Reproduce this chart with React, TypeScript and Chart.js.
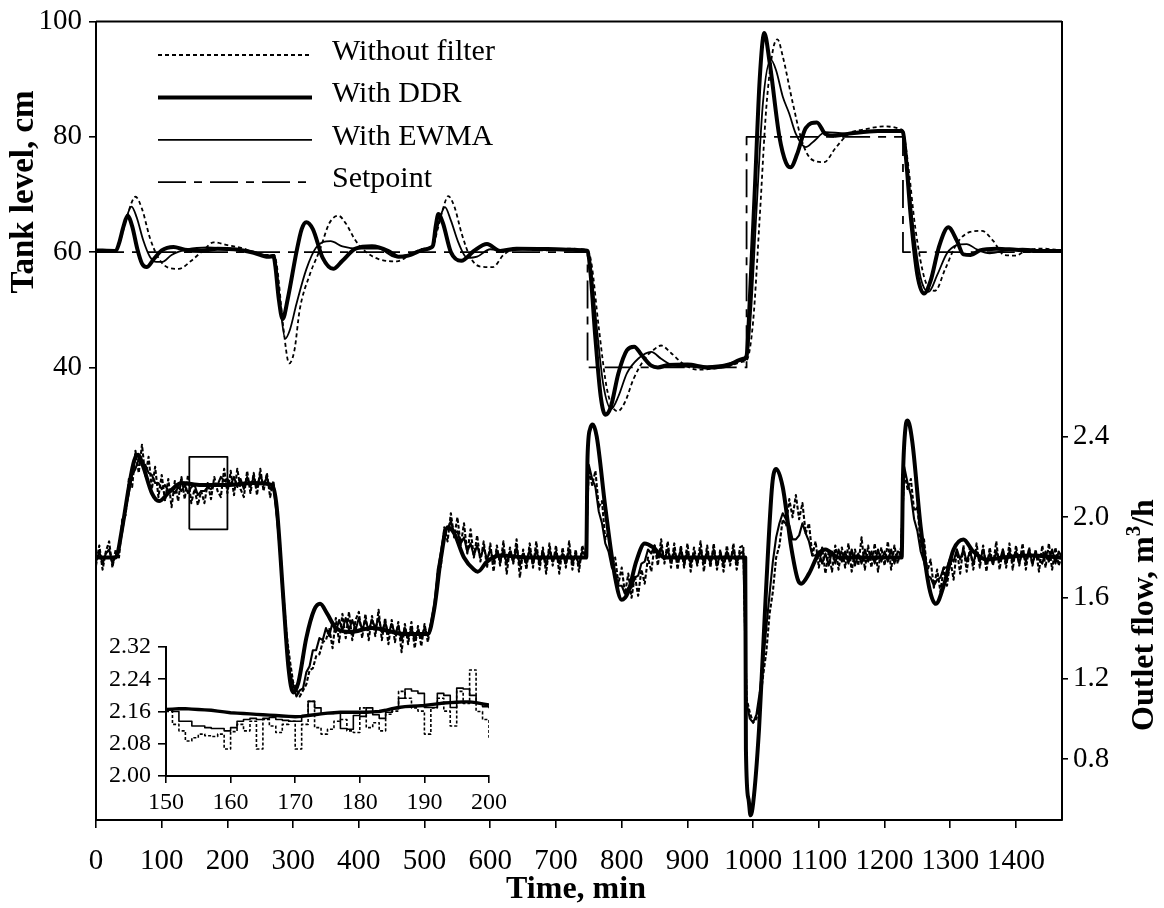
import React, { useEffect, useRef } from "react";
import { Chart, registerables } from "chart.js";

Chart.register(...registerables);

const INK = "#000";
const SERIF = "'Liberation Serif', 'Times New Roman', serif";

// ---- axes ----
const timeTicks = [0, 100, 200, 300, 400, 500, 600, 700, 800, 900, 1000, 1100, 1200, 1300, 1400];
const levelTicks = [40, 60, 80, 100];
const flowTicks = [0.8, 1.2, 1.6, 2.0, 2.4];

// ---- tank level, cm ----
const setpointTime = [0, 748, 990, 1228, 1470];
const setpointLevel = [60, 40, 80, 60, 60];

const levelNoFilterTime = [0, 30, 37, 48, 60, 70, 82, 95, 110, 126, 145, 165, 179, 200, 225, 250, 271, 276, 285, 294, 302, 310, 325, 341, 355, 369, 380, 395, 411, 430, 458, 475, 495, 513, 520, 528, 536, 545, 557, 570, 585, 604, 620, 640, 680, 720, 748, 754, 765, 778, 794, 805, 818, 835, 848, 860, 875, 895, 915, 940, 965, 985, 990, 1000, 1010, 1020, 1030, 1037, 1045, 1060, 1075, 1090, 1108, 1125, 1145, 1170, 1201, 1225, 1228, 1235, 1247, 1262, 1277, 1292, 1310, 1330, 1348, 1365, 1382, 1400, 1415, 1440, 1470];
const levelNoFilter = [60.1, 60.2, 62, 66.5, 69.6, 67.5, 62.5, 59, 57.3, 57.1, 58.5, 60.5, 61.7, 61.2, 60.6, 59.5, 59.5, 57, 47, 40.7, 43, 50, 56, 60.5, 65, 66.3, 65, 62, 60, 58.8, 58.4, 59.3, 60.5, 61.3, 64, 67.5, 69.7, 68, 63, 59, 57.5, 57.4, 59.5, 60.6, 60.3, 60.6, 60.3, 58, 47, 36, 32.4, 34, 38, 41.5, 43, 43.8, 42.5, 40.5, 39.6, 39.8, 40.3, 41, 41.2, 48, 66, 85, 95, 96.9, 94, 86, 79, 76, 75.6, 78, 80.5, 81.3, 81.8, 81.3, 81, 76, 64, 55, 53.3, 57, 61.5, 63.5, 63.7, 62, 59.5, 59.4, 60.3, 60.6, 60.3];

const levelDdrTime = [0, 30, 35, 42, 48, 55, 63, 70, 77, 88, 100, 118, 135, 160, 185, 210, 240, 262, 270, 273, 278, 284, 292, 305, 313, 320, 330, 345, 361, 375, 395, 420, 445, 460, 475, 495, 510, 513, 517, 521, 528, 540, 556, 575, 595, 615, 640, 700, 745, 748, 752, 760, 768, 775, 783, 795, 808, 819, 830, 845, 855, 870, 900, 930, 960, 985, 990, 995, 1003, 1010, 1017, 1025, 1040, 1050, 1057, 1067, 1080, 1097, 1110, 1125, 1150, 1190, 1225, 1228, 1232, 1240, 1250, 1260, 1270, 1283, 1297, 1310, 1320, 1331, 1345, 1370, 1400, 1430, 1470];
const levelDdr = [60.3, 60.2, 61.5, 64.5, 66.3, 64.5, 60.5, 58.0, 57.4, 58.8, 60.3, 60.9, 60.4, 60.2, 60.6, 60.5, 59.9, 59.2, 59.3, 57.5, 52, 48.4, 52, 60, 64, 65.2, 64, 59, 57.1, 58.5, 60.6, 61, 60.2, 59.2, 59.4, 60.3, 60.8, 61.2, 64.5, 66.6, 65, 60, 58.5, 60.2, 61.4, 60.2, 60.6, 60.5, 60.3, 60.2, 57, 45, 35, 31.8, 33, 39, 43, 43.6, 42.2, 40.3, 40, 40.4, 40.5, 40.0, 40.3, 41.5, 42, 52, 72, 90, 98.0, 93, 80, 75.5, 74.7, 77, 81.5, 82.5, 80.5, 80.2, 80.6, 81.0, 81.0, 80.8, 77, 66, 56, 52.8, 55, 61, 64.3, 62, 59.6, 59.5, 60.3, 60.6, 60.4, 60.2, 60.2];

const levelEwmaTime = [0, 30, 36, 45, 54, 62, 72, 82, 92, 101, 115, 140, 170, 200, 235, 262, 271, 275, 281, 288, 295, 305, 320, 335, 357, 375, 400, 430, 455, 475, 500, 513, 518, 525, 531, 540, 552, 565, 580, 600, 620, 660, 745, 748, 753, 762, 772, 784, 795, 808, 825, 845, 860, 880, 910, 950, 985, 990, 997, 1005, 1015, 1027, 1035, 1045, 1055, 1065, 1080, 1092, 1110, 1140, 1180, 1225, 1228, 1233, 1243, 1255, 1267, 1280, 1295, 1310, 1325, 1340, 1360, 1385, 1410, 1440, 1470];
const levelEwma = [60.2, 60.2, 62, 65.5, 67.9, 66, 62, 59.2, 58.3, 58.3, 59.5, 60.5, 60.8, 60.5, 60.2, 59.4, 59.5, 57, 50, 45, 46.5, 51, 57, 60.8, 61.9, 61, 60.6, 60.6, 59.2, 59.5, 60.5, 61, 63.5, 66.5, 67.8, 65.5, 61.5, 59, 59.2, 60.5, 60.2, 60.6, 60.3, 60.2, 57.5, 47, 37, 32.8, 35, 39, 41.5, 42.7, 41.5, 40.3, 40.1, 40.4, 41.2, 41.5, 50, 67, 86, 93.4, 91.5, 87, 84, 80.5, 78.2, 79.2, 80.8, 80.6, 81, 81.1, 80.8, 77, 65, 55.5, 53.1, 56, 59.8, 61.2, 61.4, 60.5, 59.8, 60.3, 60.6, 60.3, 60.2];

// ---- outlet flow, m3/h (logged every 5 min) ----
const FLOW_STEP = 5;
const flowNoFilter = [
  1.76, 1.86, 1.74, 1.83, 1.88, 1.75, 1.84, 1.80, 1.99, 2.01, 2.19, 2.15, 2.33, 2.22, 2.36, 2.20, 2.30, 2.14, 2.25, 2.10,
  2.21, 2.08, 2.19, 2.05, 2.18, 2.08, 2.20, 2.09, 2.21, 2.07, 2.14, 2.06, 2.13, 2.07, 2.17, 2.09, 2.20, 2.13, 2.10, 2.24,
  2.12, 2.23, 2.11, 2.24, 2.14, 2.10, 2.23, 2.12, 2.22, 2.11, 2.24, 2.13, 2.22, 2.10, 2.18, 2.02, 1.86, 1.62, 1.42, 1.29,
  1.18, 1.15, 1.11, 1.14, 1.17, 1.24, 1.25, 1.31, 1.32, 1.38, 1.39, 1.45, 1.35, 1.50, 1.38, 1.52, 1.40, 1.53, 1.39, 1.49,
  1.53, 1.40, 1.52, 1.39, 1.51, 1.41, 1.54, 1.39, 1.50, 1.37, 1.49, 1.38, 1.48, 1.33, 1.47, 1.37, 1.48, 1.35, 1.46, 1.36,
  1.47, 1.38, 1.48, 1.53, 1.72, 1.76, 1.95, 1.88, 2.02, 1.90, 2.00, 1.86, 1.97, 1.82, 1.94, 1.80, 1.91, 1.78, 1.88, 1.75,
  1.87, 1.73, 1.86, 1.76, 1.88, 1.72, 1.85, 1.77, 1.89, 1.70, 1.84, 1.74, 1.87, 1.75, 1.88, 1.74, 1.85, 1.72, 1.87, 1.76,
  1.86, 1.72, 1.85, 1.75, 1.88, 1.74, 1.84, 1.73, 1.86, 1.80, 2.24, 2.16, 2.23, 2.05, 2.08, 1.89, 1.93, 1.76, 1.80, 1.67,
  1.75, 1.62, 1.72, 1.60, 1.71, 1.61, 1.74, 1.67, 1.80, 1.73, 1.86, 1.76, 1.89, 1.77, 1.88, 1.75, 1.87, 1.74, 1.86, 1.75,
  1.87, 1.73, 1.85, 1.76, 1.88, 1.73, 1.86, 1.75, 1.87, 1.74, 1.84, 1.73, 1.86, 1.76, 1.87, 1.74, 1.85, 1.86, 1.10, 1.03,
  0.98, 1.00, 1.07, 1.21, 1.33, 1.52, 1.63, 1.80, 1.86, 1.99, 1.96, 2.09, 2.00, 2.11, 1.99, 2.07, 1.92, 1.97, 1.81, 1.88,
  1.75, 1.85, 1.72, 1.83, 1.73, 1.86, 1.74, 1.85, 1.75, 1.87, 1.73, 1.84, 1.76, 1.90, 1.74, 1.86, 1.75, 1.87, 1.73, 1.85,
  1.76, 1.88, 1.74, 1.86, 1.77, 1.85, 2.22, 2.14, 2.19, 2.03, 2.05, 1.86, 1.89, 1.73, 1.79, 1.65, 1.74, 1.63, 1.75, 1.66,
  1.79, 1.69, 1.84, 1.72, 1.86, 1.73, 1.85, 1.74, 1.87, 1.75, 1.86, 1.73, 1.85, 1.76, 1.88, 1.74, 1.84, 1.75, 1.87, 1.74,
  1.86, 1.76, 1.87, 1.74, 1.85, 1.76, 1.84, 1.73, 1.86, 1.75, 1.87, 1.74, 1.85, 1.76, 1.81,
];
const flowEwma = [
  1.78, 1.83, 1.77, 1.82, 1.84, 1.77, 1.81, 1.84, 1.93, 2.04, 2.12, 2.21, 2.24, 2.29, 2.27, 2.26, 2.22, 2.21, 2.17, 2.17,
  2.14, 2.16, 2.13, 2.14, 2.12, 2.15, 2.13, 2.16, 2.12, 2.15, 2.16, 2.11, 2.13, 2.13, 2.15, 2.14, 2.16, 2.16, 2.20, 2.18,
  2.19, 2.16, 2.20, 2.15, 2.19, 2.14, 2.20, 2.15, 2.20, 2.15, 2.21, 2.16, 2.20, 2.14, 2.16, 2.01, 1.83, 1.57, 1.39, 1.23,
  1.17, 1.11, 1.14, 1.15, 1.23, 1.26, 1.34, 1.34, 1.40, 1.39, 1.45, 1.41, 1.48, 1.43, 1.49, 1.44, 1.50, 1.44, 1.49, 1.44,
  1.50, 1.44, 1.49, 1.44, 1.49, 1.45, 1.50, 1.43, 1.48, 1.42, 1.47, 1.42, 1.46, 1.39, 1.45, 1.40, 1.45, 1.39, 1.44, 1.40,
  1.45, 1.41, 1.48, 1.57, 1.74, 1.83, 1.94, 1.94, 1.98, 1.92, 1.93, 1.87, 1.90, 1.83, 1.87, 1.81, 1.86, 1.80, 1.85, 1.79,
  1.84, 1.78, 1.83, 1.78, 1.84, 1.77, 1.83, 1.78, 1.85, 1.76, 1.82, 1.77, 1.84, 1.77, 1.84, 1.77, 1.83, 1.76, 1.84, 1.78,
  1.83, 1.77, 1.82, 1.77, 1.84, 1.77, 1.82, 1.76, 1.83, 1.81, 2.26, 2.19, 2.15, 2.03, 1.97, 1.87, 1.83, 1.75, 1.72, 1.66,
  1.66, 1.62, 1.65, 1.65, 1.70, 1.71, 1.77, 1.78, 1.84, 1.82, 1.86, 1.80, 1.85, 1.79, 1.84, 1.78, 1.83, 1.78, 1.84, 1.77,
  1.83, 1.77, 1.82, 1.77, 1.84, 1.77, 1.83, 1.77, 1.84, 1.76, 1.82, 1.77, 1.83, 1.78, 1.84, 1.77, 1.82, 1.83, 1.08, 1.00,
  0.98, 1.02, 1.13, 1.28, 1.45, 1.62, 1.78, 1.90, 1.97, 2.02, 1.99, 1.96, 1.89, 1.89, 1.91, 1.97, 1.92, 1.88, 1.81, 1.81,
  1.83, 1.77, 1.82, 1.76, 1.83, 1.77, 1.84, 1.78, 1.83, 1.77, 1.84, 1.76, 1.82, 1.77, 1.84, 1.78, 1.83, 1.77, 1.84, 1.78,
  1.83, 1.78, 1.84, 1.77, 1.83, 1.82, 2.25, 2.17, 2.11, 1.99, 1.93, 1.83, 1.78, 1.71, 1.70, 1.66, 1.69, 1.70, 1.75, 1.75,
  1.80, 1.78, 1.84, 1.79, 1.84, 1.78, 1.83, 1.77, 1.83, 1.78, 1.84, 1.77, 1.82, 1.77, 1.83, 1.78, 1.84, 1.77, 1.83, 1.78,
  1.83, 1.77, 1.83, 1.78, 1.84, 1.77, 1.82, 1.79, 1.77, 1.83, 1.78, 1.84, 1.77, 1.83, 1.80,
];
const flowDdrTime = [0, 30, 40, 50, 58, 64, 72, 85, 96, 110, 130, 160, 200, 240, 268, 275, 285, 293, 300, 308, 320, 332, 341, 352, 365, 387, 420, 470, 505, 515, 525, 535, 545, 560, 575, 581, 595, 615, 660, 746, 748, 752, 756, 762, 775, 790, 800, 810, 822, 835, 848, 865, 988, 989, 993, 996, 1000, 1009, 1019, 1029, 1035, 1045, 1058, 1068, 1073, 1085, 1100, 1110, 1130, 1226, 1228, 1232, 1235, 1242, 1255, 1268, 1278, 1290, 1305, 1320, 1335, 1355, 1380, 1420, 1470];
const flowDdr = [1.80, 1.80, 1.95, 2.15, 2.28, 2.31, 2.25, 2.12, 2.08, 2.12, 2.17, 2.16, 2.16, 2.17, 2.16, 2.05, 1.60, 1.25, 1.13, 1.18, 1.40, 1.54, 1.57, 1.52, 1.45, 1.43, 1.45, 1.42, 1.42, 1.55, 1.80, 1.95, 1.92, 1.80, 1.74, 1.73, 1.78, 1.81, 1.80, 1.80, 2.30, 2.44, 2.46, 2.40, 2.05, 1.70, 1.59, 1.63, 1.78, 1.87, 1.85, 1.80, 1.80, 0.85, 0.60, 0.52, 0.58, 0.95, 1.60, 2.16, 2.24, 2.15, 1.85, 1.69, 1.67, 1.72, 1.82, 1.84, 1.80, 1.80, 2.20, 2.45, 2.48, 2.38, 1.95, 1.65, 1.57, 1.66, 1.84, 1.89, 1.83, 1.79, 1.80, 1.81, 1.80];

// window enlarged in the inset
const zoomBoxTime = [142, 142, 200, 200, 142];
const zoomBoxFlow = [1.94, 2.30, 2.30, 1.94, 1.94];

// ---- inset: outlet flow, 150-200 min, one sample per minute ----
const INSET_START = 150;
const insetTicksX = [150, 160, 170, 180, 190, 200];
const insetTicksY = [2.0, 2.08, 2.16, 2.24, 2.32];
const insetDdr = [2.165, 2.166, 2.167, 2.167, 2.166, 2.165, 2.164, 2.163, 2.161, 2.159, 2.157, 2.156, 2.155, 2.154, 2.153, 2.152, 2.151, 2.150, 2.149, 2.148, 2.147, 2.148, 2.150, 2.152, 2.154, 2.156, 2.157, 2.158, 2.158, 2.158, 2.158, 2.158, 2.159, 2.160, 2.163, 2.167, 2.170, 2.172, 2.173, 2.174, 2.175, 2.177, 2.179, 2.181, 2.182, 2.183, 2.184, 2.184, 2.182, 2.179, 2.176];
const insetEwma = [2.165, 2.16, 2.136, 2.136, 2.124, 2.124, 2.12, 2.118, 2.118, 2.112, 2.12, 2.136, 2.14, 2.143, 2.14, 2.143, 2.145, 2.14, 2.138, 2.136, 2.136, 2.15, 2.185, 2.169, 2.155, 2.155, 2.156, 2.118, 2.116, 2.15, 2.148, 2.169, 2.152, 2.143, 2.158, 2.167, 2.193, 2.216, 2.211, 2.205, 2.17, 2.17, 2.205, 2.2, 2.17, 2.218, 2.216, 2.2, 2.18, 2.172, 2.168];
const insetNoFilter = [2.16, 2.128, 2.112, 2.087, 2.095, 2.104, 2.1, 2.098, 2.104, 2.067, 2.11, 2.128, 2.112, 2.136, 2.067, 2.14, 2.124, 2.108, 2.128, 2.136, 2.067, 2.128, 2.185, 2.12, 2.104, 2.116, 2.136, 2.14, 2.112, 2.108, 2.169, 2.12, 2.132, 2.112, 2.153, 2.161, 2.21, 2.193, 2.169, 2.161, 2.104, 2.169, 2.193, 2.161, 2.124, 2.21, 2.18, 2.263, 2.16, 2.14, 2.095];

// ---- styling ----
const STYLE_NO_FILTER = { borderWidth: 1.8, borderDash: [4, 3] };
const STYLE_DDR = { borderWidth: 4 };
const STYLE_EWMA = { borderWidth: 1.8 };
const STYLE_SETPOINT = { borderWidth: 1.8, borderDash: [28, 8, 8, 8] };
// the sampled flow records are drawn a little heavier so the noise reads as a band
const STYLE_FLOW_NO_FILTER = { borderWidth: 2.1, borderDash: [4, 2] };
const STYLE_FLOW_EWMA = { borderWidth: 2.1 };

const pairs = (xs: number[], ys: number[]) => xs.map((x, i) => ({ x, y: ys[i] }));
const sampled = (ys: number[], start: number, step: number) => ys.map((y, i) => ({ x: start + i * step, y }));

function series(label: string, data: any[], axis: string, style: any, extra: any = {}) {
  return {
    label,
    data,
    yAxisID: axis,
    borderColor: INK,
    backgroundColor: INK,
    fill: false,
    pointRadius: 0,
    pointHoverRadius: 0,
    borderJoinStyle: "round",
    ...style,
    ...extra,
  };
}

const fixedTicks = (values: number[]) => (scale: any) => {
  scale.ticks = values.map((value) => ({ value }));
};

function axisLook(fontSize: number, padding: number, tickLength: number, fmt: (v: number) => string) {
  return {
    grid: { display: true, drawOnChartArea: false, drawTicks: true, tickLength, color: INK, lineWidth: 1.6 },
    border: { display: true, color: INK, width: 2 },
    ticks: {
      color: INK,
      font: { family: SERIF, size: fontSize, lineHeight: 1 },
      padding,
      autoSkip: false,
      maxRotation: 0,
      callback: (v: number) => fmt(v),
    },
  };
}

// key, frame and axis titles of the main chart
const decorPlugin = {
  id: "decor",
  afterDraw(chart: any) {
    const { ctx, chartArea: a } = chart;
    ctx.save();
    ctx.strokeStyle = INK;
    ctx.lineWidth = 2;
    ctx.beginPath();
    ctx.moveTo(a.left, a.top);
    ctx.lineTo(a.right, a.top);
    ctx.stroke();

    // key
    const rows = chart.data.datasets.filter((d: any) => d.inKey);
    rows.forEach((d: any, i: number) => {
      const y = 55 + i * 42.4;
      ctx.save();
      ctx.lineWidth = d.borderWidth;
      ctx.setLineDash(d.borderDash || []);
      ctx.beginPath();
      ctx.moveTo(158, y);
      ctx.lineTo(312, y);
      ctx.stroke();
      ctx.restore();
      ctx.fillStyle = INK;
      ctx.font = `30px ${SERIF}`;
      ctx.textAlign = "left";
      ctx.textBaseline = "middle";
      ctx.fillText(d.label, 332, y - 3);
    });

    ctx.fillStyle = INK;
    ctx.textBaseline = "middle";
    // x title
    ctx.font = `bold 32px ${SERIF}`;
    ctx.textAlign = "center";
    ctx.fillText("Time, min", 576, 890);

    // left title
    ctx.save();
    ctx.translate(24, 192);
    ctx.rotate(-Math.PI / 2);
    ctx.font = `bold 33px ${SERIF}`;
    ctx.fillText("Tank level, cm", 0, 0);
    ctx.restore();

    // right title with superscript
    ctx.save();
    ctx.translate(1145, 615);
    ctx.rotate(-Math.PI / 2);
    const big = `bold 32px ${SERIF}`;
    const small = `bold 21px ${SERIF}`;
    ctx.font = big;
    const w1 = ctx.measureText("Outlet flow, m").width;
    const w3 = ctx.measureText("/h").width;
    ctx.font = small;
    const w2 = ctx.measureText("3").width;
    let x = -(w1 + w2 + w3) / 2;
    ctx.textAlign = "left";
    ctx.font = big;
    ctx.fillText("Outlet flow, m", x, 0);
    x += w1;
    ctx.font = small;
    ctx.fillText("3", x, -10);
    x += w2;
    ctx.font = big;
    ctx.fillText("/h", x, 0);
    ctx.restore();

    ctx.restore();
  },
};

function mainConfig(): any {
  return {
    type: "line",
    data: {
      datasets: [
        series("Without filter", pairs(levelNoFilterTime, levelNoFilter), "yL", STYLE_NO_FILTER, { inKey: true, cubicInterpolationMode: "monotone" }),
        series("With DDR", pairs(levelDdrTime, levelDdr), "yL", STYLE_DDR, { inKey: true, cubicInterpolationMode: "monotone" }),
        series("With EWMA", pairs(levelEwmaTime, levelEwma), "yL", STYLE_EWMA, { inKey: true, cubicInterpolationMode: "monotone" }),
        series("Setpoint", pairs(setpointTime, setpointLevel), "yL", STYLE_SETPOINT, { inKey: true, stepped: "before" }),
        series("Outlet flow, without filter", sampled(flowNoFilter, 0, FLOW_STEP), "yR", STYLE_FLOW_NO_FILTER),
        series("Outlet flow, EWMA", sampled(flowEwma, 0, FLOW_STEP), "yR", STYLE_FLOW_EWMA),
        series("Outlet flow, DDR", pairs(flowDdrTime, flowDdr), "yR", STYLE_DDR, { cubicInterpolationMode: "monotone" }),
        series("Inset window", pairs(zoomBoxTime, zoomBoxFlow), "yR", { borderWidth: 1.8 }),
      ],
    },
    options: {
      animation: false,
      responsive: false,
      devicePixelRatio: 1,
      layout: { padding: { top: 15, left: 0, right: 0, bottom: 0 } },
      plugins: { legend: { display: false }, tooltip: { enabled: false } },
      scales: {
        x: {
          type: "linear",
          min: 0,
          max: 1470,
          ...axisLook(29, 19, 8, (v) => String(v)),
          afterBuildTicks: fixedTicks(timeTicks),
          afterFit: (s: any) => {
            s.height = 88;
          },
        },
        yL: {
          type: "linear",
          position: "left",
          min: -38.5,
          max: 100,
          ...axisLook(29, 7, 7, (v) => String(v)),
          afterBuildTicks: fixedTicks(levelTicks),
          afterFit: (s: any) => {
            s.width = 96;
          },
        },
        yR: {
          type: "linear",
          position: "right",
          min: 0.497,
          max: 4.461,
          ...axisLook(29, 5, 6, (v) => v.toFixed(1)),
          afterBuildTicks: fixedTicks(flowTicks),
          afterFit: (s: any) => {
            s.width = 1164 - 1062;
          },
        },
      },
    },
    plugins: [decorPlugin],
  };
}

function insetConfig(): any {
  const t = (ys: number[]) => sampled(ys, INSET_START, 1);
  return {
    type: "line",
    data: {
      datasets: [
        series("With DDR", t(insetDdr), "y", { borderWidth: 3.4 }),
        series("With EWMA", t(insetEwma), "y", { borderWidth: 1.6 }, { stepped: "before" }),
        series("Without filter", t(insetNoFilter), "y", { borderWidth: 1.6, borderDash: [3, 2] }, { stepped: "before" }),
      ],
    },
    options: {
      animation: false,
      responsive: false,
      devicePixelRatio: 1,
      layout: { padding: { top: 17, left: 0, right: 37, bottom: 0 } },
      plugins: { legend: { display: false }, tooltip: { enabled: false } },
      scales: {
        x: {
          type: "linear",
          min: 150,
          max: 200,
          ...axisLook(24, 8, 7, (v) => String(v)),
          afterBuildTicks: fixedTicks(insetTicksX),
          afterFit: (s: any) => {
            s.height = 44;
          },
        },
        y: {
          type: "linear",
          min: 2.0,
          max: 2.32,
          ...axisLook(24, 7, 8, (v) => v.toFixed(2)),
          afterBuildTicks: fixedTicks(insetTicksY),
          afterFit: (s: any) => {
            s.width = 70;
          },
        },
      },
    },
  };
}

export default function App() {
  const mainRef = useRef<HTMLCanvasElement>(null);
  const insetRef = useRef<HTMLCanvasElement>(null);

  useEffect(() => {
    const main = new Chart(mainRef.current as HTMLCanvasElement, mainConfig());
    const inset = new Chart(insetRef.current as HTMLCanvasElement, insetConfig());
    return () => {
      main.destroy();
      inset.destroy();
    };
  }, []);

  return (
    <div style={{ position: "fixed", left: 0, top: 0, width: 1164, height: 908, background: "#fff", overflow: "hidden" }}>
      <canvas ref={mainRef} width={1164} height={908} style={{ position: "absolute", left: 0, top: 0 }} />
      <canvas ref={insetRef} width={430} height={192} style={{ position: "absolute", left: 96, top: 628 }} />
    </div>
  );
}
